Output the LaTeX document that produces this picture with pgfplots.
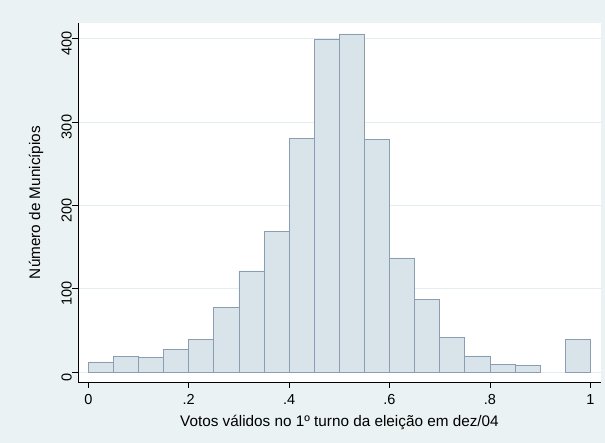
\documentclass[border=0pt]{standalone}
\usepackage{pgfplots}
\pgfplotsset{compat=1.18}
\usepackage{fontspec}
\setmainfont{Liberation Sans}
\definecolor{bgc}{HTML}{EAF2F3}
\definecolor{barfill}{HTML}{D8E4EA}
\definecolor{barline}{HTML}{8A9DB3}
\definecolor{gridc}{HTML}{E4EDF0}
\begin{document}
\begin{tikzpicture}[x=1bp,y=1bp]
\fill[bgc] (0,0) rectangle (605,443);
\useasboundingbox (0,0) rectangle (605,443);
\begin{axis}[
  at={(78bp,61bp)}, anchor=south west,
  scale only axis, width=523bp, height=359bp,
  xmin=-0.0205, xmax=1.0213, ymin=-12, ymax=418.8,
  axis x line*=bottom, axis y line*=left,
  axis line style={-, black, line width=0.8bp},
  axis background/.style={fill=white},
  xtick={0,0.2,0.4,0.6,0.8,1}, xticklabels={0,.2,.4,.6,.8,1},
  ytick={0,100,200,300,400}, yticklabels={0,100,200,300,400},
  /pgf/number format/assume math mode=true,
  tick align=outside, major tick length=6bp,
  tick style={black, line width=0.8bp},
  ymajorgrids, grid style={gridc, line width=0.8bp},
  tick label style={font=\fontsize{14.5bp}{17bp}\selectfont},
  yticklabel style={rotate=90, anchor=south, inner sep=0pt, xshift=-5bp},
  xticklabel style={anchor=north, inner sep=0pt, yshift=-6bp},
  every axis x label/.style={at={(axis description cs:0.5,-0.1245)}, anchor=base, font=\fontsize{15.3bp}{18bp}\selectfont},
  every axis y label/.style={at={(axis description cs:-0.0803,0.5)}, rotate=90, anchor=center, font=\fontsize{15.3bp}{18bp}\selectfont},
  xlabel={Votos válidos no 1º turno da eleição em dez/04},
  ylabel={Número de Municípios},
  clip=false,
]
\addplot[ybar, bar width=0.05, fill=barfill, draw=barline, line width=0.8bp]
coordinates {
(0.025,12) (0.075,18.4) (0.125,17.2) (0.175,27.2) (0.225,39.2)
(0.275,77.2) (0.325,121.2) (0.375,168.8) (0.425,280.5) (0.475,399.7)
(0.525,405.7) (0.575,279.3) (0.625,136.8) (0.675,87.2) (0.725,41.2)
(0.775,19.2) (0.825,9.2) (0.875,8) (0.975,39.2)
};
\end{axis}
\end{tikzpicture}
\end{document}
